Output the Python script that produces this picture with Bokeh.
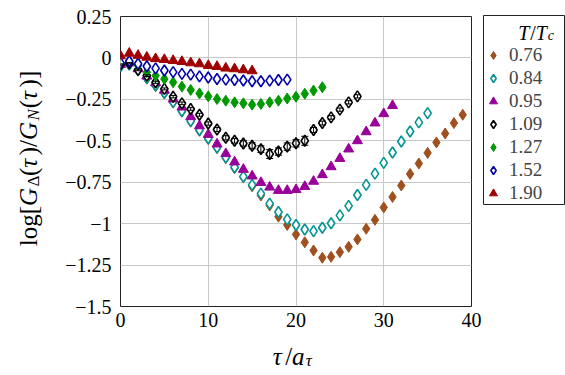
import math
from bokeh.plotting import figure
from bokeh.layouts import row, column
from bokeh.models import (Range1d, FixedTicker, Legend, LegendItem, Label,
                          Whisker, TeeHead, ColumnDataSource, BoxAnnotation)
from bokeh.embed import file_html
from bokeh.resources import INLINE

# ---------------- data ----------------
temps = ["0.76", "0.84", "0.95", "1.09", "1.27", "1.52", "1.90"]

y076 = [-0.045, -0.035, -0.075, -0.125, -0.17, -0.215, -0.27, -0.325, -0.385, -0.44,
        -0.49, -0.545, -0.605, -0.665, -0.72, -0.775, -0.83, -0.89, -0.958, -1.008,
        -1.065, -1.113, -1.162, -1.206, -1.2, -1.172, -1.14, -1.095, -1.031, -0.977,
        -0.902, -0.839, -0.77, -0.70, -0.637, -0.573, -0.51, -0.456, -0.393, -0.343]
y084 = [-0.05, -0.04, -0.075, -0.12, -0.165, -0.21, -0.265, -0.32, -0.38, -0.435,
        -0.485, -0.54, -0.6, -0.66, -0.716, -0.766, -0.819, -0.879, -0.93, -0.974,
        -1.008, -1.035, -1.045, -1.025, -0.998, -0.95, -0.893, -0.827, -0.766, -0.698,
        -0.633, -0.571, -0.504, -0.444, -0.389, -0.333]
y095 = [-0.04, -0.03, -0.066, -0.11, -0.15, -0.195, -0.248, -0.297, -0.355, -0.41,
        -0.462, -0.52, -0.578, -0.628, -0.673, -0.713, -0.752, -0.78, -0.8, -0.8,
        -0.795, -0.776, -0.745, -0.705, -0.657, -0.607, -0.55, -0.5, -0.446, -0.393,
        -0.337, -0.288]
y109 = [-0.04, -0.032, -0.072, -0.107, -0.147, -0.187, -0.234, -0.274, -0.308, -0.343,
        -0.396, -0.432, -0.482, -0.5, -0.516, -0.53, -0.55, -0.58, -0.565, -0.535,
        -0.515, -0.5, -0.435, -0.393, -0.359, -0.312, -0.268, -0.232]
err109 = [0.004, 0.004, 0.005, 0.005, 0.006, 0.006, 0.007, 0.008, 0.008, 0.009,
          0.01, 0.012, 0.013, 0.014, 0.016, 0.018, 0.02, 0.027, 0.022, 0.022,
          0.022, 0.027, 0.015, 0.012, 0.011, 0.01, 0.01, 0.01]
y127 = [-0.03, -0.02, -0.046, -0.086, -0.107, -0.127, -0.147, -0.173, -0.193, -0.214,
        -0.232, -0.248, -0.258, -0.268, -0.274, -0.282, -0.278, -0.268, -0.258, -0.245,
        -0.234, -0.216, -0.197, -0.177]
y152 = [-0.03, -0.02, -0.035, -0.05, -0.063, -0.076, -0.086, -0.096, -0.101, -0.111,
        -0.118, -0.127, -0.131, -0.133, -0.136, -0.141, -0.141, -0.137, -0.133, -0.131]
y190 = [0.012, 0.028, 0.015, 0.004, -0.005, -0.01, -0.016, -0.022, -0.03, -0.036,
        -0.046, -0.052, -0.062, -0.066, -0.072, -0.078]

x_ticks = [0, 10, 20, 30, 40]
x_tick_labels = ["0", "10", "20", "30", "40"]
y_ticks = [-1.5, -1.25, -1.0, -0.75, -0.5, -0.25, 0.0, 0.25]
y_tick_labels = ["\u22121.5", "\u22121.25", "\u22121", "\u22120.75", "\u22120.5",
                 "\u22120.25", "0", "0.25"]

# ---------------- layout geometry (pixels) ----------------
TOTAL_W, TOTAL_H = 565, 375
YL_W = 50                       # strip holding the y-axis title
LG_W = 83                       # strip holding the legend
MAIN_W = TOTAL_W - YL_W - LG_W  # 432
XL_H = 35                       # strip holding the x-axis title
MAIN_H = TOTAL_H - XL_H         # 340
ML, MR, MT, MB = 70, 11, 16, 34
X0, X1, Y0, Y1 = 0, 40, -1.5, 0.25
FONT = "Liberation Serif"
BL_FIX = 5   # alphabetic-baseline correction (px)

# ---------------- main figure ----------------
p = figure(width=MAIN_W, height=MAIN_H, output_backend="svg", toolbar_location=None,
           x_range=Range1d(X0, X1), y_range=Range1d(Y0, Y1),
           min_border_left=ML, min_border_right=MR, min_border_top=MT,
           min_border_bottom=MB)
p.background_fill_color = "white"
p.border_fill_color = "white"
p.outline_line_color = "#222222"
p.outline_line_width = 1

p.xaxis.ticker = FixedTicker(ticks=x_ticks)
p.yaxis.ticker = FixedTicker(ticks=y_ticks)
p.xaxis.major_label_overrides = {t: l for t, l in zip(x_ticks, x_tick_labels)}
p.yaxis.major_label_overrides = {t: l for t, l in zip(y_ticks, y_tick_labels)}
for ax in (p.xaxis, p.yaxis):
    ax.axis_line_color = None
    ax.major_tick_in = 0
    ax.major_tick_out = 0
    ax.minor_tick_line_color = None
    ax.major_label_text_font = FONT
    ax.major_label_text_font_size = "20px"
    ax.major_label_text_color = "black"
p.xaxis.major_label_standoff = 6
p.yaxis.major_label_standoff = 9
p.xgrid.grid_line_color = "#c8c8c8"
p.ygrid.grid_line_color = "#c8c8c8"

series = [
    ("0.76", y076, "#a0501e", "diamond", True),
    ("0.84", y084, "#009494", "diamond", False),
    ("0.95", y095, "#990099", "triangle", True),
    ("1.09", y109, "#000000", "diamond", False),
    ("1.27", y127, "#009900", "diamond", True),
    ("1.52", y152, "#0000aa", "diamond", False),
    ("1.90", y190, "#a00000", "triangle", True),
]


def marker_style(col, mk, filled):
    return dict(marker=mk, size=11 if mk == "diamond" else 10,
                fill_color=col if filled else "white", line_color=col,
                line_width=1.0 if filled else 1.6)


for label, ys, col, mk, filled in series:
    xs = list(range(len(ys)))
    src = ColumnDataSource(dict(x=xs, y=ys))
    p.scatter("x", "y", source=src, **marker_style(col, mk, filled))
    if label == "1.09":
        esrc = ColumnDataSource(dict(
            x=xs,
            upper=[v + e for v, e in zip(ys, err109)],
            lower=[v - e for v, e in zip(ys, err109)]))
        wh = Whisker(base="x", upper="upper", lower="lower", source=esrc,
                     line_color=col, line_width=1, level="overlay",
                     upper_head=TeeHead(size=7, line_color=col, line_width=1),
                     lower_head=TeeHead(size=7, line_color=col, line_width=1))
        p.add_layout(wh)


# ---------------- helpers for math-like titles ----------------
W_EM = {"l": .278, "o": .5, "g": .5, "[": .333, "]": .333, "(": .333, ")": .333,
        "/": .278, "\u0394": .612, "G": .78, "N": .72, "\u03c4": .5, "a": .55,
        "T": .6, "c": .48}


def width(txt, size):
    return sum(W_EM.get(ch, .5) for ch in txt) * size


def strip(w, h, xr, yr):
    # strips use page-pixel coordinates (y downward) as their data space
    f = figure(width=w, height=h, output_backend="svg", toolbar_location=None,
               x_range=Range1d(*xr), y_range=Range1d(*yr),
               x_axis_type=None, y_axis_type=None,
               min_border=0, min_border_left=0, min_border_right=0,
               min_border_top=0, min_border_bottom=0)
    f.grid.visible = False
    f.outline_line_color = None
    f.background_fill_color = "white"
    f.border_fill_color = "white"
    return f


def place(fig, pieces, start, baseline, vertical):
    off = 0.0
    for txt, style, size, shift in pieces:
        if vertical:   # text runs upward; 'start' is the bottom end
            lab = Label(x=baseline + shift - BL_FIX, y=start - off, text=txt,
                        angle=math.pi / 2)
        else:
            lab = Label(x=start + off, y=baseline + shift - BL_FIX, text=txt)
        lab.text_align = "left"
        lab.text_baseline = "alphabetic"
        lab.text_font = FONT
        lab.text_font_style = style
        lab.text_font_size = f"{size}px"
        lab.text_color = "black"
        lab.level = "overlay"
        fig.add_layout(lab)
        off += width(txt, size)


# y-axis title strip (page x 0..50, y 0..375)
yl = strip(YL_W, TOTAL_H, (0, YL_W), (TOTAL_H, 0))
ylab = [("log[", "normal", 25, 0), ("G", "italic", 25, 0), ("\u0394", "normal", 17, 5),
        ("(", "normal", 25, 0), ("\u03c4", "italic", 25, 0), (")/", "normal", 25, 0),
        ("G", "italic", 25, 0), ("N", "italic", 17, 5), ("(", "normal", 25, 0),
        ("\u03c4", "italic", 25, 0), (")]", "normal", 25, 0)]
ytot = sum(width(t, s) for t, _, s, _ in ylab)
place(yl, ylab, 158 + ytot / 2, 33, True)

# x-axis title strip (its frame is aligned with the main frame: page x 120..471)
xl = strip(MAIN_W, XL_H, (YL_W + ML, YL_W + MAIN_W - MR), (TOTAL_H, MAIN_H))
xlab = [("\u03c4", "italic", 25, 0), ("/", "normal", 25, 0), ("a", "italic", 25, 0),
        ("\u03c4", "italic", 17, 4)]
xtot = sum(width(t, s) for t, _, s, _ in xlab)
place(xl, xlab, 293 - xtot / 2, 361, False)

# legend strip (page x 482..565); proxy renderers carry the same series but lie
# outside this strip's x-range, so only their legend samples are visible
LG_X0 = TOTAL_W - LG_W
lg = strip(LG_W, TOTAL_H, (LG_X0, TOTAL_W), (TOTAL_H, 0))
items = []
for label, ys, col, mk, filled in series:
    proxy = lg.scatter(x=list(range(len(ys))), y=ys, **marker_style(col, mk, filled))
    items.append(LegendItem(label=label, renderers=[proxy]))
legend = Legend(items=items, location=(1, 171),
                border_line_color=None, background_fill_alpha=0.0,
                padding=5, spacing=0, margin=0, label_height=23, label_width=43,
                glyph_height=20, glyph_width=20, label_standoff=6,
                label_text_font=FONT, label_text_font_size="19px",
                label_text_line_height=1.0)
lg.add_layout(legend)
lg.add_layout(BoxAnnotation(left=483, right=564, top=15, bottom=204,
                            fill_alpha=0.0, line_color="#222222", line_width=1,
                            line_alpha=1.0))
tlab = [("T", "italic", 20, 0), ("/", "normal", 20, 0), ("T", "italic", 20, 0),
        ("c", "italic", 14, 3)]
ttot = sum(width(t, s) for t, _, s, _ in tlab)
place(lg, tlab, 554 - ttot, 37, False)

layout = row(yl, column(p, xl), lg)
open("out.html", "w").write(file_html(layout, INLINE))
